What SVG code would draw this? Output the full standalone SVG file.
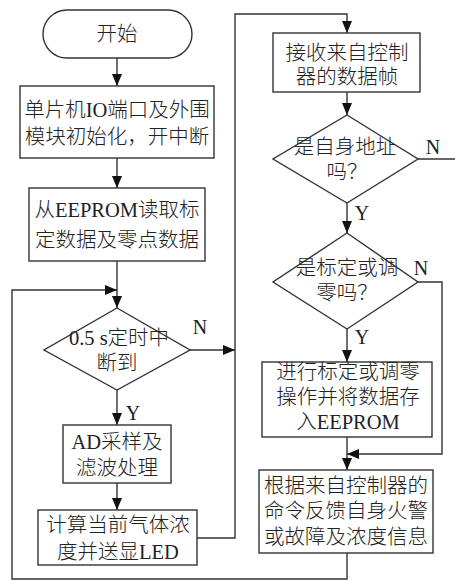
<svg xmlns="http://www.w3.org/2000/svg" width="455" height="581" viewBox="0 0 455 581">
<style>
.shape{fill:#fff;stroke:#333;stroke-width:1.4}
.t{font-family:"Liberation Serif","Noto Sans CJK SC",serif;font-size:20.5px;font-weight:300;fill:#222;text-anchor:middle}
.lbl{font-family:"Liberation Serif",serif;font-size:20px;fill:#222;text-anchor:middle}
.c{fill:none;stroke:#333;stroke-width:1.4}
</style>
<defs>
<marker id="ah" markerUnits="userSpaceOnUse" markerWidth="12" markerHeight="10" refX="12" refY="5" orient="auto">
<path d="M0,0 L12,5 L0,10 z" fill="#111"/>
</marker>
</defs>
<rect width="455" height="581" fill="#fff"/>
<g id="connectors">
<path class="c" d="M117,58 V86" marker-end="url(#ah)"/>
<path class="c" d="M117,158 V188" marker-end="url(#ah)"/>
<path class="c" d="M117,261 V308" marker-end="url(#ah)"/>
<path class="c" d="M117,390 V425" marker-end="url(#ah)"/>
<path class="c" d="M117,483 V510" marker-end="url(#ah)"/>
<path class="c" d="M197,538 H235 V14 H347 V33" marker-end="url(#ah)"/>
<path class="c" d="M190,350 H235" marker-end="url(#ah)"/>
<path class="c" d="M347,92 V115" marker-end="url(#ah)"/>
<path class="c" d="M418,159 H455"/>
<path class="c" d="M347,203 V233" marker-end="url(#ah)"/>
<path class="c" d="M347,329 V362" marker-end="url(#ah)"/>
<path class="c" d="M418,282 H442 V454 H347" marker-end="url(#ah)"/>
<path class="c" d="M347,437 V470" marker-end="url(#ah)"/>
<path class="c" d="M347,553 V579 H12 V290 H117" marker-end="url(#ah)"/>
<text class="lbl" x="200" y="334">N</text>
<text class="lbl" x="133" y="420">Y</text>
<text class="lbl" x="433" y="154">N</text>
<text class="lbl" x="362" y="220">Y</text>
<text class="lbl" x="421" y="275">N</text>
<text class="lbl" x="362" y="344">Y</text>
</g>
<g id="start">
<rect class="shape" x="43" y="10" width="149" height="48" rx="24" ry="24"/>
<text class="t" x="117" y="41">开始</text>
</g>
<g id="init">
<rect class="shape" x="20" y="86" width="194" height="72"/>
<text class="t" x="117" y="117">单片机IO端口及外围</text>
<text class="t" x="117" y="144">模块初始化，开中断</text>
</g>
<g id="read">
<rect class="shape" x="29" y="188" width="176" height="73"/>
<text class="t" x="117" y="217">从EEPROM读取标</text>
<text class="t" x="117" y="247">定数据及零点数据</text>
</g>
<g id="timer">
<polygon class="shape" points="117,308 190,350 117,390 44,350"/>
<text class="t" x="119" y="345">0.5 s定时中</text>
<text class="t" x="117" y="370">断到</text>
</g>
<g id="ad">
<rect class="shape" x="63" y="425" width="108" height="58"/>
<text class="t" x="117" y="449">AD采样及</text>
<text class="t" x="117" y="475">滤波处理</text>
</g>
<g id="calc">
<rect class="shape" x="38" y="510" width="159" height="55"/>
<text class="t" x="118" y="532">计算当前气体浓</text>
<text class="t" x="118" y="559">度并送显LED</text>
</g>
<g id="recv">
<rect class="shape" x="273" y="33" width="147" height="59"/>
<text class="t" x="347" y="60">接收来自控制</text>
<text class="t" x="347" y="84">器的数据帧</text>
</g>
<g id="addr">
<polygon class="shape" points="347,115 418,159 347,203 273,159"/>
<text class="t" x="345" y="154">是自身地址</text>
<text class="t" x="347" y="179">吗？</text>
</g>
<g id="calib">
<polygon class="shape" points="347,233 418,282 347,329 273,282"/>
<text class="t" x="347" y="275">是标定或调</text>
<text class="t" x="347" y="300">零吗？</text>
</g>
<g id="save">
<rect class="shape" x="262" y="362" width="170" height="75"/>
<text class="t" x="348" y="379">进行标定或调零</text>
<text class="t" x="348" y="404">操作并将数据存</text>
<text class="t" x="348" y="429">入EEPROM</text>
</g>
<g id="reply">
<rect class="shape" x="259" y="470" width="174" height="83"/>
<text class="t" x="346" y="493">根据来自控制器的</text>
<text class="t" x="346" y="518">命令反馈自身火警</text>
<text class="t" x="346" y="544">或故障及浓度信息</text>
</g>
</svg>
